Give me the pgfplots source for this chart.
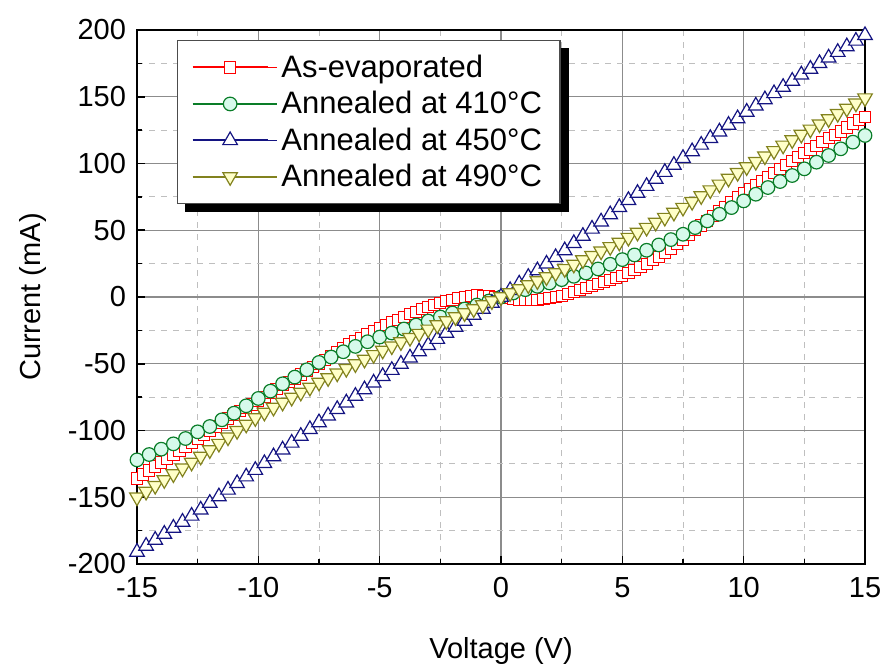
\documentclass[border=0pt]{standalone}
\usepackage{fontspec}
\setmainfont{Liberation Sans}
\usepackage{pgfplots}
\pgfplotsset{compat=1.18}
\definecolor{cred}{RGB}{255,0,0}
\definecolor{cgreen}{RGB}{10,125,40}
\definecolor{cblue}{RGB}{20,20,130}
\definecolor{colive}{RGB}{130,130,30}
\definecolor{fgreen}{RGB}{215,250,235}
\definecolor{folive}{RGB}{255,255,200}
\begin{document}
\begin{tikzpicture}
\useasboundingbox (-68.5pt,-50pt) rectangle (374.5pt,282pt);
\begin{axis}[
  scale only axis, width=364pt, height=267pt,
  xmin=-15, xmax=15, ymin=-200, ymax=200,
  xtick={-15,-10,...,15}, ytick={-200,-150,...,200},
  minor x tick num=1, minor y tick num=1,
  grid=both,
  major grid style={black!45, line width=0.7pt},
  minor grid style={black!25, dashed, line width=0.5pt},
  tick align=inside, tick pos=left,
  major tick length=4pt, minor tick length=2.5pt,
  every tick/.style={black, line width=0.8pt},
  axis line style={black, line width=1pt},
  /pgf/number format/assume math mode=true,
  ticklabel style={font=\fontsize{14.5}{16}\selectfont},
  xticklabel style={yshift=-3pt},
  yticklabel style={xshift=-2pt},
  label style={font=\fontsize{14.5}{16}\selectfont},
  xlabel={Voltage (V)}, ylabel={Current (mA)},
  xlabel style={at={(axis description cs:0.5,-0.162)}, anchor=center},
  ylabel style={at={(axis description cs:-0.143,0.5)}, anchor=center},
  legend style={at={(rel axis cs:0.055,0.981)}, anchor=north west,
    name=leg,
    draw=black!70, line width=0.6pt, fill=white,
    font=\fontsize{15.5}{18}\selectfont, row sep=1.5pt,
    inner xsep=7pt, inner ysep=5pt},
  legend cell align=left,
  legend image code/.code={\draw[mark repeat=2,mark phase=2,line width=1pt,#1] plot coordinates {(0pt,0pt) (18.75pt,0pt) (37.5pt,0pt)};\path (37.5pt,0pt) -- (42pt,0pt);},
]
\addplot[cred, line width=0.8pt, mark=square*, mark size=2.8pt, mark options={fill=white, line width=0.5pt}] coordinates {
(-15,-136) (-14.75,-133) (-14.5,-130) (-14.25,-127) (-14,-124) (-13.75,-121) (-13.5,-118) (-13.25,-115) (-13,-112) (-12.75,-109) (-12.5,-106) (-12.25,-103) (-12,-100) (-11.75,-97) (-11.5,-94) (-11.25,-91) (-11,-88) (-10.75,-85.5) (-10.5,-83) (-10.25,-80.5) (-10,-78) (-9.75,-75) (-9.5,-72) (-9.25,-69) (-9,-66) (-8.75,-63.5) (-8.5,-61) (-8.25,-58) (-8,-55) (-7.75,-52.5) (-7.5,-50) (-7.25,-47) (-7,-44) (-6.75,-41) (-6.5,-38) (-6.25,-35.5) (-6,-33) (-5.75,-30.5) (-5.5,-28) (-5.25,-25.5) (-5,-23) (-4.75,-21) (-4.5,-19) (-4.25,-17) (-4,-15) (-3.75,-13) (-3.5,-11) (-3.25,-9.2) (-3,-7.5) (-2.75,-6) (-2.5,-4.5) (-2.25,-3.2) (-2,-2) (-1.75,-1) (-1.5,0) (-1.25,0.8) (-1,1.5) (-0.75,1) (-0.5,0.5) (-0.25,0) (0,-0.5) (0.25,-1) (0.5,-1.5) (0.75,-2) (1,-2.5) (1.25,-2.3) (1.5,-2) (1.75,-1.5) (2,-1) (2.25,0) (2.5,1) (2.75,2.5) (3,4) (3.25,5.5) (3.5,7) (3.75,8.5) (4,10) (4.25,11.5) (4.5,13) (4.75,14.5) (5,16) (5.25,18) (5.5,20) (5.75,22.5) (6,25) (6.25,27.5) (6.5,30) (6.75,33) (7,36) (7.25,39.5) (7.5,43) (7.75,46.5) (8,50) (8.25,53.5) (8.5,57) (8.75,60.5) (9,64) (9.25,67.5) (9.5,71) (9.75,74.5) (10,78) (10.25,81) (10.5,84) (10.75,87) (11,90) (11.25,93) (11.5,96) (11.75,99) (12,102) (12.25,105) (12.5,108) (12.75,110.5) (13,113) (13.25,116) (13.5,119) (13.75,121.5) (14,124) (14.25,127) (14.5,130) (14.75,132.5) (15,135)
};
\addlegendentry{As-evaporated}
\addplot[cgreen, line width=0.8pt, mark=*, mark size=3.4pt, mark options={fill=fgreen, line width=0.6pt}] coordinates {
(-15,-122) (-14.5,-118) (-14,-114) (-13.5,-110) (-13,-106) (-12.5,-101) (-12,-97) (-11.5,-92) (-11,-87) (-10.5,-81.5) (-10,-76) (-9.5,-70.5) (-9,-65) (-8.5,-60) (-8,-54.5) (-7.5,-49) (-7,-45) (-6.5,-41) (-6,-37) (-5.5,-33.5) (-5,-30) (-4.5,-27) (-4,-24) (-3.5,-21) (-3,-18) (-2.5,-15) (-2,-12) (-1.5,-9) (-1,-6) (-0.5,-3) (0,0) (0.5,3) (1,5.5) (1.5,8) (2,10.5) (2.5,13) (3,15.5) (3.5,18) (4,21) (4.5,24.5) (5,28) (5.5,31.5) (6,35) (6.5,39) (7,43) (7.5,47) (8,52) (8.5,57) (9,62) (9.5,67) (10,72) (10.5,77) (11,82) (11.5,86.5) (12,91) (12.5,96) (13,101) (13.5,106) (14,111) (14.5,116) (15,121)
};
\addlegendentry{Annealed at 410°C}
\addplot[cblue, line width=0.8pt, mark=triangle*, mark size=4.2pt, mark options={fill=white, line width=0.6pt}] coordinates {
(-15,-191) (-14.625,-186.5) (-14.25,-182) (-13.875,-177.5) (-13.5,-173) (-13.125,-168.5) (-12.75,-164) (-12.375,-159.4) (-12,-154.4) (-11.625,-149.5) (-11.25,-144.5) (-10.875,-139.6) (-10.5,-134.6) (-10.125,-129.7) (-9.75,-124.6) (-9.375,-119.5) (-9,-114.4) (-8.625,-109.3) (-8.25,-104.2) (-7.875,-99.1) (-7.5,-94) (-7.125,-89) (-6.75,-84.1) (-6.375,-79.2) (-6,-74.2) (-5.625,-69.3) (-5.25,-64.3) (-4.875,-59.4) (-4.5,-54.8) (-4.125,-50.2) (-3.75,-45.5) (-3.375,-40.9) (-3,-36.2) (-2.625,-31.6) (-2.25,-27) (-1.875,-22.5) (-1.5,-18) (-1.125,-13.5) (-0.75,-9) (-0.375,-4.5) (0,0) (0.375,5) (0.75,9.9) (1.125,14.9) (1.5,19.8) (1.875,24.8) (2.25,29.7) (2.625,34.8) (3,40.2) (3.375,45.6) (3.75,51) (4.125,56.4) (4.5,61.8) (4.875,67.2) (5.25,72.5) (5.625,77.8) (6,83) (6.375,88.3) (6.75,93.5) (7.125,98.8) (7.5,104) (7.875,109) (8.25,113.9) (8.625,118.9) (9,123.8) (9.375,128.8) (9.75,133.7) (10.125,138.6) (10.5,143.2) (10.875,147.9) (11.25,152.5) (11.625,157.2) (12,161.8) (12.375,166.5) (12.75,170.8) (13.125,175) (13.5,179.2) (13.875,183.4) (14.25,187.6) (14.625,191.8) (15,196)
};
\addlegendentry{Annealed at 450°C}
\addplot[colive, line width=0.8pt, mark=triangle*, mark size=4.2pt, mark options={fill=folive, line width=0.6pt, rotate=180}] coordinates {
(-15,-150) (-14.625,-145.7) (-14.25,-141.3) (-13.875,-137) (-13.5,-132.6) (-13.125,-128.3) (-12.75,-123.9) (-12.375,-119.4) (-12,-114.6) (-11.625,-109.8) (-11.25,-105) (-10.875,-100.2) (-10.5,-95.4) (-10.125,-90.6) (-9.75,-86.5) (-9.375,-82.8) (-9,-79) (-8.625,-75.3) (-8.25,-71.5) (-7.875,-67.8) (-7.5,-64) (-7.125,-60.6) (-6.75,-57.1) (-6.375,-53.7) (-6,-50.2) (-5.625,-46.8) (-5.25,-43.3) (-4.875,-40) (-4.5,-36.8) (-4.125,-33.7) (-3.75,-30.5) (-3.375,-27.4) (-3,-24.2) (-2.625,-21) (-2.25,-18) (-1.875,-15) (-1.5,-12) (-1.125,-9) (-0.75,-6) (-0.375,-3) (0,0) (0.375,3) (0.75,6) (1.125,9) (1.5,12) (1.875,15) (2.25,18) (2.625,21.1) (3,24.4) (3.375,27.7) (3.75,31) (4.125,34.3) (4.5,37.6) (4.875,40.9) (5.25,44.5) (5.625,48.3) (6,52) (6.375,55.8) (6.75,59.5) (7.125,63.3) (7.5,67) (7.875,71.4) (8.25,75.7) (8.625,80.1) (9,84.4) (9.375,88.8) (9.75,93.1) (10.125,97.4) (10.5,101.4) (10.875,105.5) (11.25,109.5) (11.625,113.6) (12,117.6) (12.375,121.7) (12.75,125.6) (13.125,129.5) (13.5,133.4) (13.875,137.3) (14.25,141.2) (14.625,145.1) (15,149)
};
\addlegendentry{Annealed at 490°C}
\end{axis}
\fill[black] ([yshift=-4pt]leg.north east) rectangle ([xshift=4pt,yshift=-4pt]leg.south east);
\fill[black] ([xshift=4pt]leg.south west) rectangle ([xshift=4pt,yshift=-4pt]leg.south east);
\end{tikzpicture}
\end{document}
